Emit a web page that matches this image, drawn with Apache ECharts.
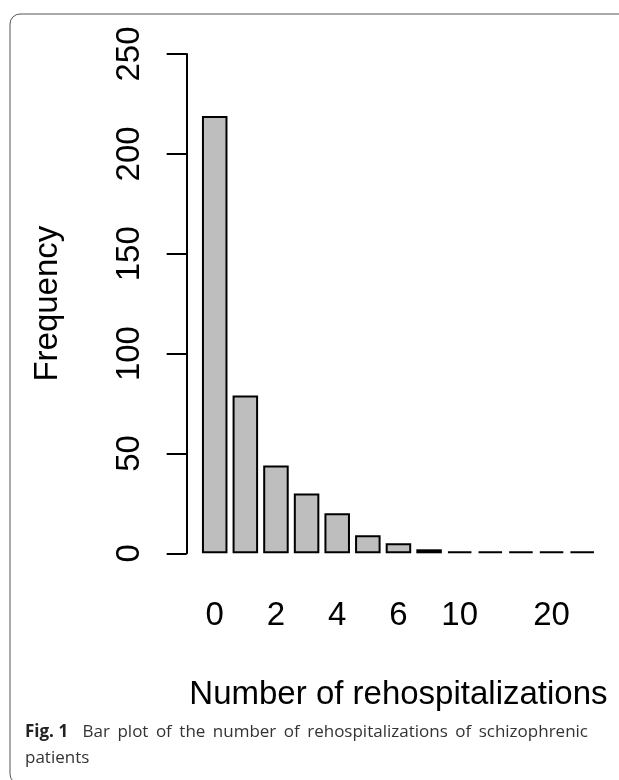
<!DOCTYPE html>
<html>
<head>
<meta charset="utf-8">
<script src="https://cdn.jsdelivr.net/npm/echarts@6/dist/echarts.min.js"></script>
<style>
html,body{margin:0;padding:0;background:#fff;}
#chart{width:619px;height:780px;}
</style>
</head>
<body>
<div id="chart"></div>
<script>
// Data
var categories = ["0","1","2","3","4","5","6","7","10","12","15","20","24"];
var frequencies = [219, 79, 44, 30, 20, 9, 5, 2, 1, 1, 1, 1, 1];
var xTickLabels = ["0","2","4","6","10","20"];
var yTicks = [0, 50, 100, 150, 200, 250];
var xTitle = "Number of rehospitalizations";
var yTitle = "Frequency";
var captionBold = "Fig. 1";
var captionLine1 = "Bar plot of the number of rehospitalizations of schizophrenic";
var captionLine2 = "patients";

var FONT = "Liberation Sans";
var CAP_FONT = "Open Sans";
var CAP_SIZE = 17;

// justified caption line (words spread across the caption width)
var ctx = document.createElement('canvas').getContext('2d');
function measure(t, bold) {
  ctx.font = (bold ? 'bold ' : '') + CAP_SIZE + 'px "' + CAP_FONT + '"';
  return ctx.measureText(t).width;
}
var capLeft = 25, capRight = 588;
var words = [{t: captionBold, b: true}].concat(captionLine1.split(' ').map(function (w) { return {t: w, b: false}; }));
var totalW = 0;
words.forEach(function (w) { w.w = measure(w.t, w.b); totalW += w.w; });
var extraFirstGap = 7;
var gap = (capRight - capLeft - totalW - extraFirstGap) / (words.length - 1);
var captionGraphics = [];
var cx = capLeft;
words.forEach(function (w, i) {
  captionGraphics.push({
    type: 'text', x: cx, y: 724, silent: true,
    style: {text: w.t, fontFamily: CAP_FONT, fontSize: CAP_SIZE, fontWeight: w.b ? 'bold' : 'normal',
            fill: w.b ? '#222' : '#333'}
  });
  cx += w.w + gap + (i === 0 ? extraFirstGap : 0);
});
captionGraphics.push({type: 'text', x: capLeft, y: 750, silent: true,
  style: {text: captionLine2, fontFamily: CAP_FONT, fontSize: CAP_SIZE, fill: '#333'}});

var chart = echarts.init(document.getElementById('chart'), null, {renderer: 'canvas'});
var option = {
  animation: false,
  backgroundColor: '#ffffff',
  grid: {left: 199.4, right: 21.5, top: 54, bottom: 226.7, containLabel: false},
  xAxis: {
    type: 'category',
    data: categories,
    boundaryGap: true,
    axisLine: {show: false},
    axisTick: {show: false},
    axisLabel: {
      interval: function (idx, val) { return xTickLabels.indexOf(val) >= 0; },
      fontFamily: FONT, fontSize: 33, color: '#000', margin: 46
    },
    name: xTitle,
    nameLocation: 'middle',
    nameGap: 125,
    nameTextStyle: {fontFamily: FONT, fontSize: 33, color: '#000'}
  },
  yAxis: {
    type: 'value',
    min: yTicks[0],
    max: yTicks[yTicks.length - 1],
    interval: yTicks[1] - yTicks[0],
    offset: 12.7,
    splitLine: {show: false},
    axisLine: {show: true, lineStyle: {color: '#000', width: 2}},
    axisTick: {show: true, length: 20, lineStyle: {color: '#000', width: 2}},
    axisLabel: {rotate: 90, fontFamily: FONT, fontSize: 33, color: '#000', margin: 40},
    name: yTitle,
    nameLocation: 'middle',
    nameGap: 122,
    nameRotate: 90,
    nameTextStyle: {fontFamily: FONT, fontSize: 33, color: '#000'}
  },
  series: [{
    type: 'bar',
    data: frequencies,
    barCategoryGap: '16.67%',
    itemStyle: {color: '#bebebe', borderColor: '#000', borderWidth: 2}
  }],
  graphic: [
    {type: 'rect', shape: {x: 10, y: 14, width: 700, height: 770, r: 10}, silent: true,
     style: {fill: 'none', stroke: '#555', lineWidth: 1}}
  ].concat(captionGraphics)
};
chart.setOption(option);
</script>
</body>
</html>
